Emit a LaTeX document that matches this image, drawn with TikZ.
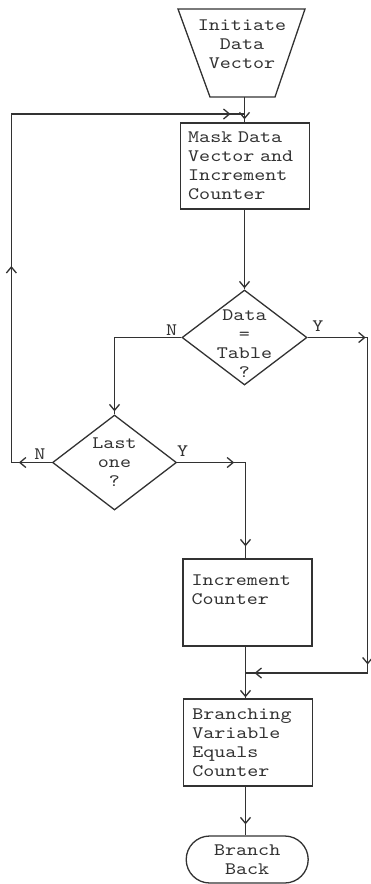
\documentclass[tikz,border=0pt]{standalone}
\usepackage{fontspec}
\setmonofont[FakeStretch=1.2]{lmmono10-regular.otf}
\usetikzlibrary{shapes.geometric,shapes.misc,arrows.meta,decorations.markings}
\definecolor{ink}{RGB}{50,50,50}
\begin{document}
\begin{tikzpicture}[
  x=1pt, y=-1pt,
  font=\ttfamily\fontsize{17.5}{18.9}\selectfont,
  >={Straight Barb[length=6pt,width=10pt]},
  flow/.style={draw=ink, line width=1.3pt},
  arrowat/.style={postaction={decorate,decoration={markings,mark=at position #1 with {\arrow{>}}}}},
  txt/.style={text=ink, inner sep=0pt},
  box/.style={rectangle, draw=ink, line width=1.3pt, text=ink, align=left, inner ysep=0pt},
  decision/.style={diamond, draw=ink, line width=1.3pt, inner sep=0pt},
  terminal/.style={rounded rectangle, draw=ink, line width=1.3pt, text=ink, inner sep=0pt, align=center},
]
\useasboundingbox (0,0) rectangle (371,884);

% start: inverted trapezoid
\draw[flow, line join=miter] (178,9) -- (305,9) -- (275,97) -- (210,97) -- cycle;
\node[txt, align=center] (init) at (242,44) {Initiate\\Data\\Vector};
\coordinate (initb) at (244.5,97);

% process boxes
\node[box, text width=113pt, inner xsep=8pt, minimum height=86pt] (mask) at (244.7,166)
  {Mask Data\\Vector and\\Increment\\Counter};
\node[box, minimum width=129pt, minimum height=87pt] (inc) at (247.6,602.5) {};
\node[txt, anchor=north west, align=left] (inct) at ([xshift=9pt,yshift=-16pt]inc.north west)
  {Increment\\Counter};
\node[box, text width=111pt, inner xsep=9pt, minimum height=87pt] (bvar) at (247.8,742.5)
  {Branching\\Variable\\Equals\\Counter};
\node[terminal, minimum width=122pt, minimum height=47pt] (back) at (247.2,859.5) {Branch\\Back};

% decisions
\node[decision, minimum width=125pt, minimum height=95pt] (eq) at (244.5,337.5) {};
\node[txt, align=center] (eqt) at ([yshift=-6pt]eq.center) {Data\\=\\Table\\?};
\node[decision, minimum width=124pt, minimum height=95pt] (last) at (114.5,462.5) {};
\node[txt, align=center] (lastt) at (last.center) {Last\\one\\?};

% junction points
\coordinate (merge1) at (244.5,114);
\coordinate (merge2) at (245.5,673);

% connectors
\draw[flow, arrowat=-3pt] (initb) -- (mask.north -| initb);
\draw[flow, arrowat=33pt, arrowat=237pt, arrowat=-14pt]
  (last.west) -- ++(-40.5,0) |- (merge1);
\draw[flow, arrowat=-1pt] (mask.south -| eq.north) -- (eq.north);
\draw[flow, arrowat=-3pt] (eq.west) -| (last.north);
\draw[flow, arrowat=58pt, arrowat=387pt, arrowat=-9pt]
  (eq.east) -- ++(60,0) |- (merge2);
\draw[flow, arrowat=57pt, arrowat=-12pt] (last.east) -| (inc.north -| merge2);
\draw[flow, arrowat=-1pt] (inc.south -| merge2) -- (bvar.north -| merge2);
\draw[flow, arrowat=-11pt] (bvar.south -| merge2) -- (back.north -| merge2);

% branch labels
\node[txt] (n1) at (171.7,330) {N};
\node[txt] (y1) at (318,326) {Y};
\node[txt] (n2) at (40,454) {N};
\node[txt] (y2) at (182.7,451) {Y};
\end{tikzpicture}
\end{document}
